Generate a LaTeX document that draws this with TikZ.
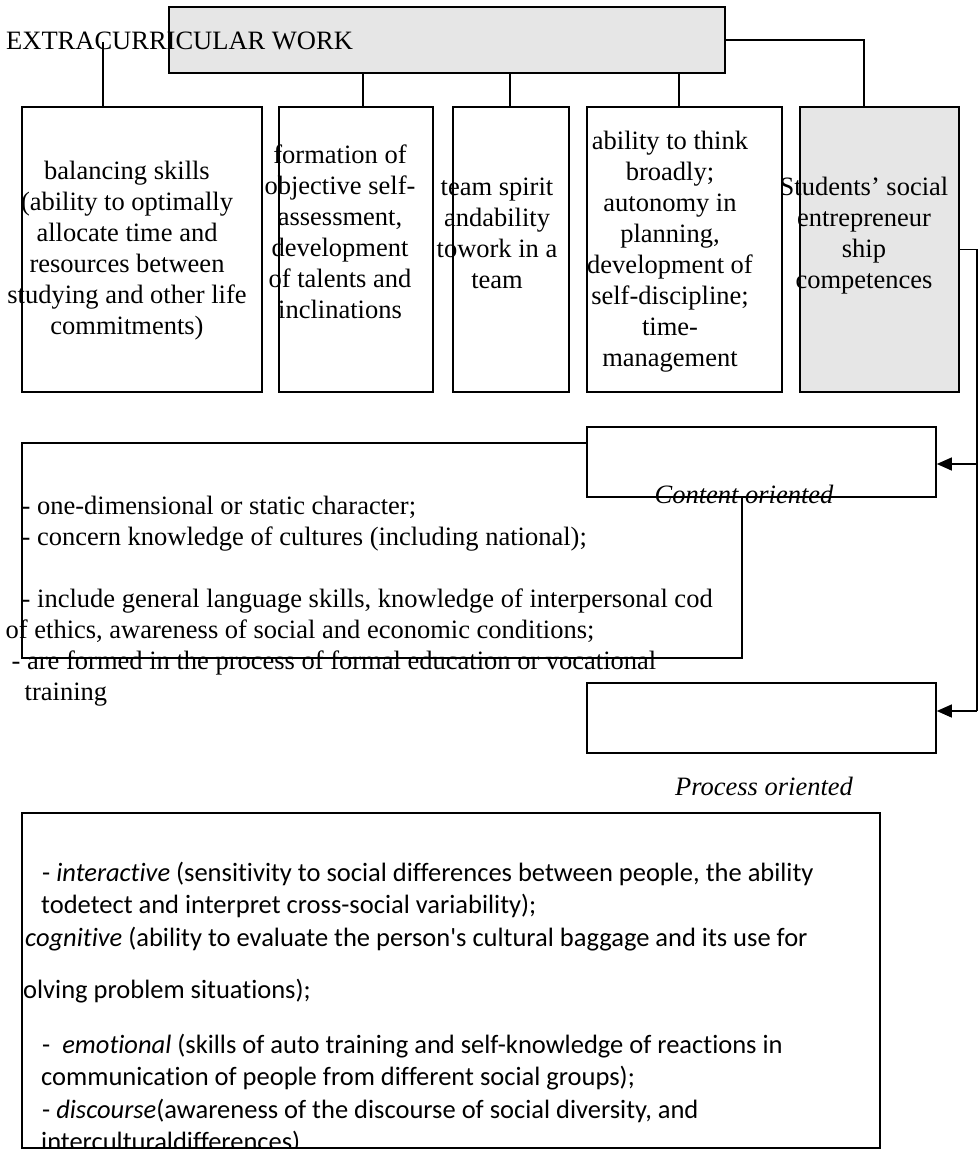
\documentclass[tikz,border=0pt]{standalone}
\usepackage{fontspec}
\setmainfont{Liberation Serif}
\newfontfamily\calibri{Carlito}[Ligatures=CommonOff]
\usetikzlibrary{arrows.meta}
\definecolor{boxgray}{RGB}{230,230,230}
\begin{document}
\begin{tikzpicture}[x=1pt,y=-1pt,
  box/.style={draw=black, line width=1.6pt, inner sep=0pt, fill=white},
  gbox/.style={box, fill=boxgray},
  conn/.style={line width=1.2pt},
  arr/.style={conn, -{Triangle[length=15pt,width=13pt]}},
  txt/.style={inner sep=0pt, font=\fontsize{26.5pt}{31pt}\selectfont},
  ctxt/.style={inner sep=0pt, font=\calibri\fontsize{26.5pt}{32.5pt}\selectfont}]
\useasboundingbox (0,0) rectangle (979,1149);
\clip (0,0) rectangle (979,1149);

% top box
\node[gbox, minimum width=556pt, minimum height=66pt] (top) at (447,40) {};
\node[txt, anchor=base west] (ttop) at (6,49) {EXTRACURRICULAR WORK};

% row of boxes
\node[box, minimum width=240pt, minimum height=285pt] (b1) at (142,249.5) {};
\node[box, minimum width=154pt, minimum height=285pt] (b2) at (356,249.5) {};
\node[box, minimum width=116pt, minimum height=285pt] (b3) at (511,249.5) {};
\node[box, minimum width=195pt, minimum height=285pt] (b4) at (684.5,249.5) {};
\node[gbox, minimum width=159pt, minimum height=285pt] (b5) at (879.5,249.5) {};

\node[txt, anchor=base] (t1) at (127,179) {\begin{tabular}[t]{@{}c@{}}balancing skills\\(ability to optimally\\allocate time and\\resources between\\studying and other life\\commitments)\end{tabular}};
\node[txt, anchor=base] (t2) at (340,163) {\begin{tabular}[t]{@{}c@{}}formation of\\objective self-\\assessment,\\development\\of talents and\\inclinations\end{tabular}};
\node[txt, anchor=base] (t3) at (497,195) {\begin{tabular}[t]{@{}c@{}}team spirit\\andability\\towork in a\\team\end{tabular}};
\node[txt, anchor=base] (t4) at (670,149) {\begin{tabular}[t]{@{}c@{}}ability to think\\broadly;\\autonomy in\\planning,\\development of\\self-discipline;\\time-\\management\end{tabular}};
\node[txt, anchor=base] (t5) at (864,195) {\begin{tabular}[t]{@{}c@{}}Students’ social\\entrepreneur\\ship\\competences\end{tabular}};

% connectors from top
\coordinate (c1) at (103,42);
\coordinate (x2) at (363,0);
\coordinate (x3) at (510,0);
\coordinate (x4) at (679,0);
\coordinate (x5) at (864,0);
\draw[conn] (c1) -- (c1 |- b1.north);
\draw[conn] (top.south -| x2) -- (b2.north -| x2);
\draw[conn] (top.south -| x3) -- (b3.north -| x3);
\draw[conn] (top.south -| x4) -- (b4.north -| x4);
\draw[conn] (top.east) -| (b5.north -| x5);

% big text box, then content box over it
\node[box, minimum width=720pt, minimum height=215pt] (big) at (382,550.5) {};
\node[box, minimum width=349pt, minimum height=70pt] (content) at (761.5,462) {};
\node[box, minimum width=349pt, minimum height=70pt] (process) at (761.5,718) {};

\node[txt, anchor=base west] (tbig) at (21.5,514) {\begin{tabular}[t]{@{}l@{}}- one-dimensional or static character;\\- concern knowledge of cultures (including national);\\ \\- include general language skills, knowledge of interpersonal cod\\\hspace*{-16pt}of ethics, awareness of social and economic conditions;\\\hspace*{-10pt}- are formed in the process of formal education or vocational\\\hspace*{3pt}training\end{tabular}};

\node[txt, anchor=base] (tcont) at (744,503) {\itshape Content oriented};
\node[txt, anchor=base] (tproc) at (764,795) {\itshape Process oriented};

% right-hand connector with arrows
\coordinate (v0) at (977,0);
\coordinate (ym1) at (0,464);
\coordinate (ym2) at (0,711);
\draw[conn] (b5.east) -- (b5.east -| v0) -- (v0 |- ym2);
\draw[arr] (v0 |- ym1) -- (content.east |- ym1);
\draw[arr] (v0 |- ym2) -- (process.east |- ym2);

% bottom box
\node[draw=black, line width=1.5pt, inner sep=0pt, minimum width=858pt, minimum height=335pt] (bottom) at (451,980.5) {};
\node[ctxt, anchor=base west] (tbot) at (41,881) {\begin{tabular}[t]{@{}l@{}}\hspace*{1pt}- \textit{interactive} (sensitivity to social differences between people, the ability\\todetect and interpret cross-social variability);\\\hspace*{-16pt}\textit{cognitive} (ability to evaluate the person's cultural baggage and its use for\\[20pt]\hspace*{-18pt}olving problem situations);\\[22pt]\hspace*{1pt}-\ \ \textit{emotional} (skills of auto training and self-knowledge of reactions in\\communication of people from different social groups);\\\hspace*{1pt}- \textit{discourse}(awareness of the discourse of social diversity, and\\interculturaldifferences)\end{tabular}};
\end{tikzpicture}
\end{document}
